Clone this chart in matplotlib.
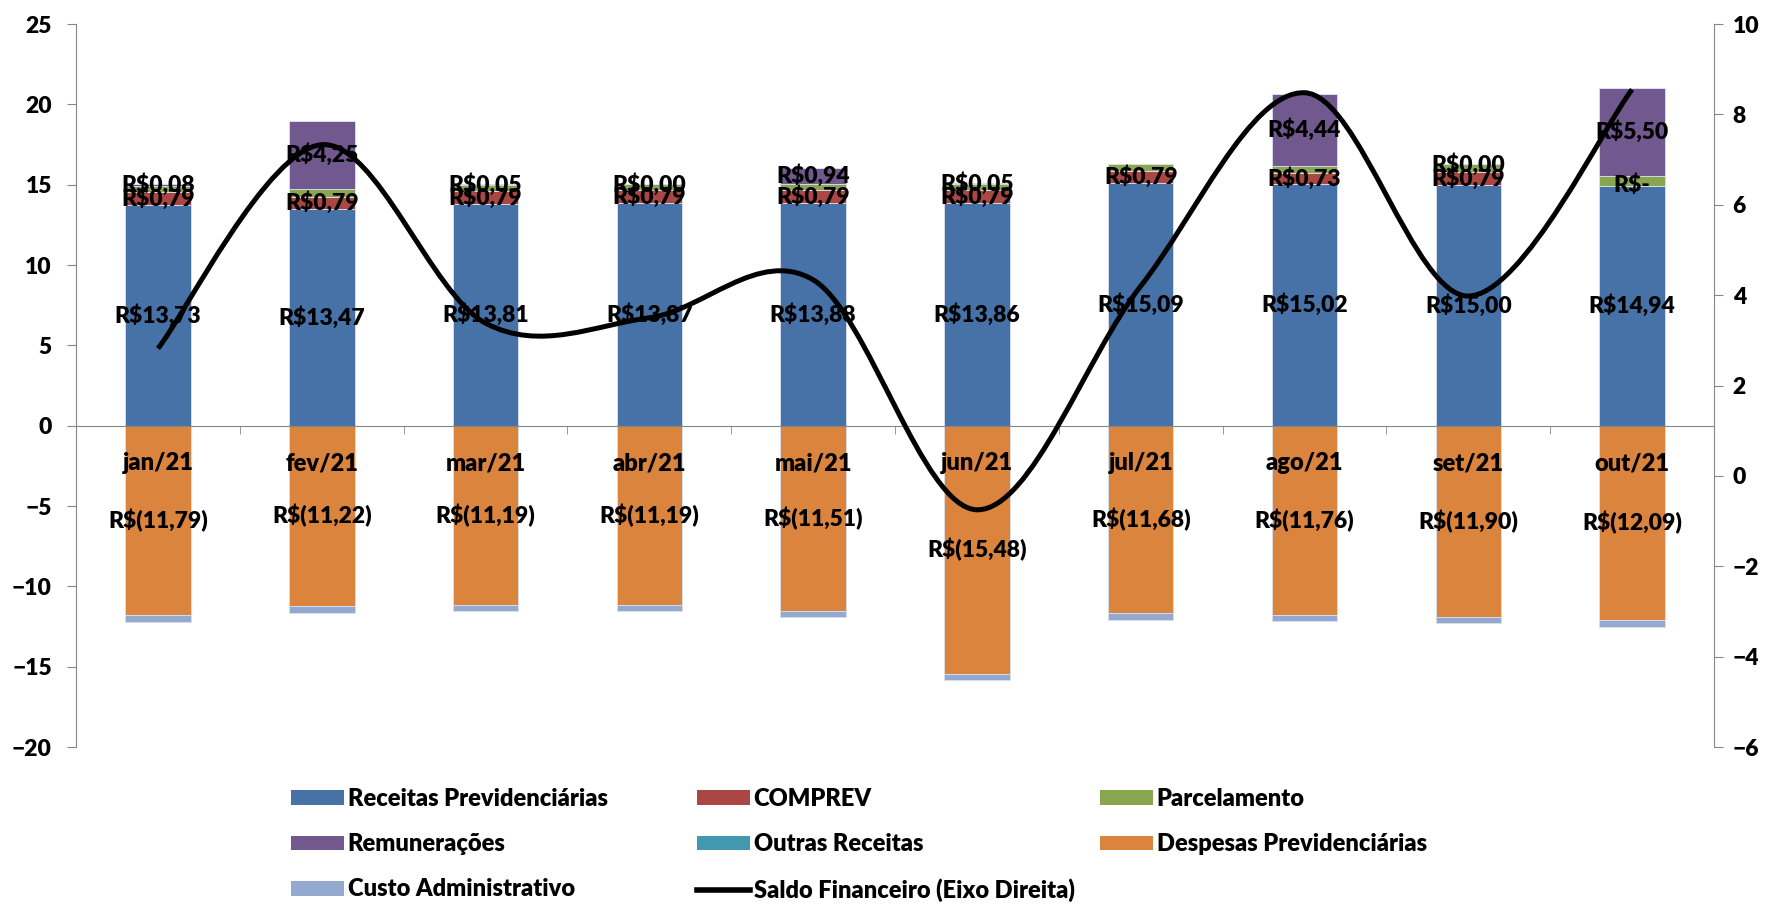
import numpy as np
import matplotlib
matplotlib.use('Agg')
import matplotlib.pyplot as plt
from matplotlib import font_manager
from matplotlib.font_manager import FontProperties
from matplotlib.path import Path
from matplotlib.patches import PathPatch, Patch
from matplotlib.lines import Line2D


# fonte em negrito pesado (Lato ExtraBold), com alternativas
def _peso(w):
    try:
        return int(w)
    except (TypeError, ValueError):
        return 700 if 'bold' in str(w).lower() else 400


arquivo = None
for cand, alvo in [('Lato', 800), ('Lato', 700), ('Liberation Sans', 700)]:
    ops = [f for f in font_manager.fontManager.ttflist
           if f.name == cand and f.style == 'normal' and _peso(f.weight) == alvo]
    if ops:
        arquivo = sorted(ops, key=lambda f: f.fname)[0].fname
        break


def fonte(size):
    if arquivo:
        return FontProperties(fname=arquivo, size=size)
    return FontProperties(family='DejaVu Sans', weight='bold', size=size)


# dados (R$ milhões)
meses = ['jan/21', 'fev/21', 'mar/21', 'abr/21', 'mai/21', 'jun/21',
         'jul/21', 'ago/21', 'set/21', 'out/21']
receitas = [13.73, 13.47, 13.81, 13.87, 13.88, 13.86, 15.09, 15.02, 15.00, 14.94]
comprev = [0.79, 0.79, 0.79, 0.79, 0.79, 0.79, 0.79, 0.73, 0.79, 0.0]
parcelamento = [0.42, 0.47, 0.38, 0.36, 0.40, 0.42, 0.41, 0.44, 0.48, 0.60]
remuneracoes = [0.08, 4.25, 0.05, 0.004, 0.94, 0.05, 0.0, 4.44, 0.003, 5.50]
outras = [0, 0, 0, 0, 0, 0, 0, 0, 0, 0]
despesas = [-11.79, -11.22, -11.19, -11.19, -11.51, -15.48, -11.68, -11.76, -11.90, -12.09]
custo = [-0.42, -0.42, -0.35, -0.37, -0.40, -0.38, -0.41, -0.37, -0.37, -0.41]
saldo = [2.82, 7.33, 3.38, 3.50, 4.34, -0.75, 4.20, 8.48, 3.98, 8.55]

cores = {
    'Receitas Previdenciárias': '#4672A8',
    'COMPREV': '#AA4643',
    'Parcelamento': '#89A54E',
    'Remunerações': '#71588F',
    'Outras Receitas': '#4198AF',
    'Despesas Previdenciárias': '#DB843D',
    'Custo Administrativo': '#93A9CF',
}


def brl(v):
    if v == 0:
        return 'R$-'
    s = f'{abs(v):.2f}'.replace('.', ',')
    return f'R$({s})' if v < 0 else f'R${s}'


fig = plt.figure(figsize=(17.69, 9.07), dpi=100)
ax = fig.add_axes([0.0430, 0.1764, 0.9259, 0.7971])
ax.set_axisbelow(False)
x = np.arange(len(meses))
w = 0.4
fs = 16.5
edge = dict(edgecolor='#d9e1ee', linewidth=0.6)

positivos = [('Receitas Previdenciárias', receitas, True),
             ('COMPREV', comprev, True),
             ('Parcelamento', parcelamento, False),
             ('Remunerações', remuneracoes, True),
             ('Outras Receitas', outras, False)]
base = np.zeros(len(meses))
for nome, vals, rotulo in positivos:
    vals = np.array(vals, dtype=float)
    bc = ax.bar(x, vals, w, bottom=base, color=cores[nome], zorder=1, **edge)
    if rotulo:
        if nome == 'Remunerações':
            labs = [brl(v) if v != 0 else '' for v in vals]
        else:
            labs = [brl(v) for v in vals]
        ax.bar_label(bc, labels=labs, label_type='center',
                     fontproperties=fonte(fs), color='black', zorder=6)
    base = base + vals

neg = np.array(despesas, dtype=float)
bc = ax.bar(x, neg, w, color=cores['Despesas Previdenciárias'], zorder=1, **edge)
ax.bar_label(bc, labels=[brl(v) for v in neg], label_type='center',
             fontproperties=fonte(fs), color='black', zorder=6)
ax.bar(x, custo, w, bottom=neg, color=cores['Custo Administrativo'], zorder=1, **edge)

ax.set_xlim(-0.5, len(meses) - 0.5)
ax.set_ylim(-20, 25)
ax.set_yticks(np.arange(-20, 26, 5))
ax.set_xticks(x, meses)
ax.set_xticks(np.arange(-0.5, len(meses), 1), minor=True)
ax.tick_params(axis='x', which='major', length=0, pad=19)
ax.tick_params(axis='x', which='minor', length=6, color='#868686', direction='out')
ax.tick_params(axis='y', length=6.5, color='#868686', pad=11)
ax.spines['bottom'].set_position(('data', 0))
ax.spines['bottom'].set_color('#868686')
ax.spines['left'].set_color('#868686')
ax.spines['top'].set_visible(False)
ax.spines['right'].set_visible(False)

ax2 = ax.twinx()
ax2.set_ylim(-6, 10)
ax2.set_yticks(np.arange(-6, 11, 2))
ax2.tick_params(axis='y', length=6.5, color='#868686', pad=7)
for s in ['top', 'bottom', 'left']:
    ax2.spines[s].set_visible(False)
ax2.spines['right'].set_color('#868686')

for t in ax.get_xticklabels():
    t.set_fontproperties(fonte(17))
for t in ax.get_yticklabels() + ax2.get_yticklabels():
    t.set_fontproperties(fonte(16.5))

# linha suavizada (estilo Excel, Bezier Catmull-Rom)
pts = np.column_stack([x, saldo]).astype(float)
verts = [pts[0]]
codes = [Path.MOVETO]
n = len(pts)
for i in range(n - 1):
    p0 = pts[max(i - 1, 0)]
    p1 = pts[i]
    p2 = pts[i + 1]
    p3 = pts[min(i + 2, n - 1)]
    verts += [p1 + (p2 - p0) / 6, p2 - (p3 - p1) / 6, p2]
    codes += [Path.CURVE4] * 3
ax2.add_patch(PathPatch(Path(verts, codes), fill=False, edgecolor='black',
                        linewidth=3.6, capstyle='butt', zorder=4))


# legenda em três colunas
def leg(nomes, xpos):
    hs = []
    for nm in nomes:
        if nm == 'Saldo Financeiro (Eixo Direita)':
            hs.append(Line2D([], [], color='black', linewidth=4))
        else:
            hs.append(Patch(facecolor=cores[nm], edgecolor='none'))
    fig.legend(hs, nomes, loc='upper left', bbox_to_anchor=(xpos, 0.131),
               frameon=False, handlelength=2.25, handleheight=0.6,
               handletextpad=0.15, labelspacing=0.98, borderpad=0,
               borderaxespad=0, prop=fonte(17))


leg(['Receitas Previdenciárias', 'Remunerações', 'Custo Administrativo'], 291 / 1769)
leg(['COMPREV', 'Outras Receitas', 'Saldo Financeiro (Eixo Direita)'], 697 / 1769)
leg(['Parcelamento', 'Despesas Previdenciárias'], 1100 / 1769)

fig.savefig('out.png', dpi=100)
